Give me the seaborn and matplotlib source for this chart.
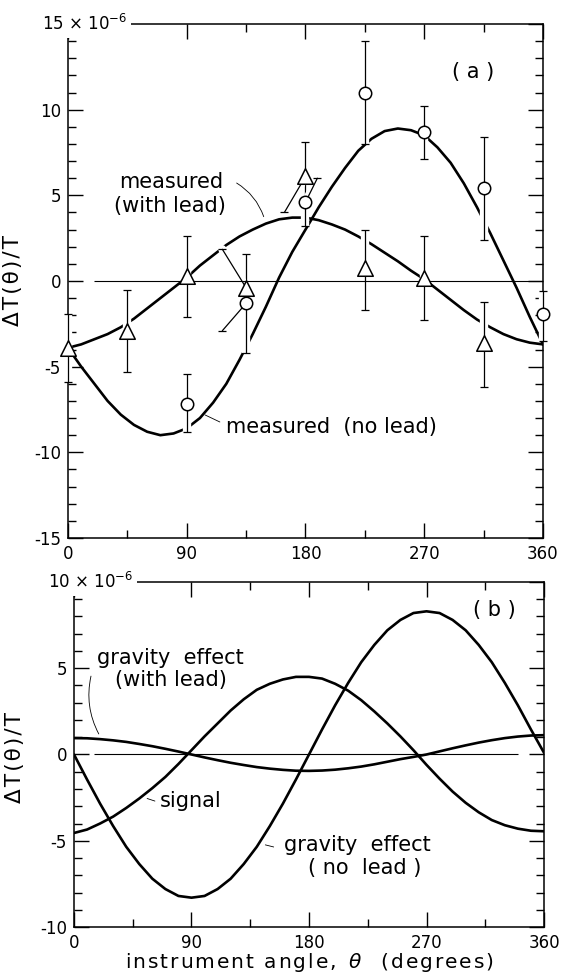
import numpy as np
import seaborn as sns
import matplotlib.pyplot as plt
import matplotlib.patheffects as pe

# instrument angle (degrees) for the smooth curves
theta = list(range(0, 361, 10))

# panel (a): fitted curves, units of 1e-6
meas_no_lead = [-3.9, -5.0, -6.0, -7.0, -7.8, -8.4, -8.8, -9.0, -8.9, -8.6,
                -8.0, -7.1, -6.0, -4.6, -3.1, -1.5, 0.2, 1.7, 3.0,
                4.3, 5.5, 6.6, 7.6, 8.3, 8.75, 8.9, 8.8, 8.5,
                7.8, 6.9, 5.7, 4.3, 2.8, 1.2, -0.4, -2.1, -3.7]
meas_with_lead = [-3.9, -3.7, -3.4, -3.1, -2.7, -2.2, -1.6, -1.0, -0.4, 0.2,
                  0.9, 1.5, 2.1, 2.6, 3.0, 3.35, 3.6, 3.7, 3.7,
                  3.55, 3.3, 3.0, 2.6, 2.15, 1.65, 1.15, 0.6, 0.1,
                  -0.5, -1.1, -1.7, -2.25, -2.7, -3.1, -3.4, -3.6, -3.7]

# panel (a): triangles = with lead, circles = no lead
tri_x = [0, 45, 90, 135, 180, 225, 270, 315]
tri_y = [-3.9, -2.9, 0.3, -0.4, 6.1, 0.75, 0.2, -3.6]
tri_err_lo = [2.0, 2.4, 2.4, 0.9, 1.5, 2.45, 2.45, 2.6]
tri_err_hi = [2.0, 2.4, 2.3, 2.0, 2.0, 2.25, 2.4, 2.4]

circ_x = [90, 135, 180, 225, 270, 315, 360]
circ_y = [-7.2, -1.3, 4.6, 11.0, 8.7, 5.4, -1.95]
circ_err_lo = [1.6, 2.9, 1.4, 3.0, 1.6, 3.0, 1.55]
circ_err_hi = [1.8, 0.0, 0.0, 3.0, 1.5, 3.0, 1.35]

# displaced (slanted) error bars near 135 and 180 deg
slant_x0 = [135, 135, 180, 180]
slant_y0 = [-0.4, -1.3, 6.1, 4.6]
slant_x1 = [117, 117, 164, 189]
slant_y1 = [1.85, -2.9, 4.0, 6.0]

# panel (b): gravity effects and signal, units of 1e-6
grav_no_lead = [0.0, -1.45, -2.85, -4.15, -5.35, -6.35, -7.2, -7.8, -8.2, -8.3,
                -8.2, -7.8, -7.2, -6.35, -5.35, -4.15, -2.85, -1.45, 0.0,
                1.45, 2.85, 4.15, 5.35, 6.35, 7.2, 7.8, 8.2, 8.3,
                8.2, 7.8, 7.2, 6.35, 5.35, 4.15, 2.85, 1.45, 0.1]
grav_with_lead = [0.95, 0.94, 0.89, 0.82, 0.73, 0.61, 0.48, 0.33, 0.17, 0.0,
                  -0.17, -0.33, -0.48, -0.61, -0.73, -0.82, -0.89, -0.94, -0.95,
                  -0.93, -0.88, -0.8, -0.7, -0.57, -0.42, -0.27, -0.14, 0.0,
                  0.18, 0.36, 0.53, 0.69, 0.83, 0.95, 1.04, 1.1, 1.12]
signal = [-4.55, -4.35, -4.0, -3.6, -3.1, -2.55, -1.95, -1.3, -0.55, 0.25,
          1.05, 1.8, 2.55, 3.2, 3.75, 4.1, 4.35, 4.5, 4.5,
          4.4, 4.1, 3.7, 3.15, 2.5, 1.8, 1.05, 0.25, -0.6,
          -1.4, -2.15, -2.8, -3.35, -3.8, -4.1, -4.3, -4.42, -4.45]

x_major = [0, 90, 180, 270, 360]
x_minor = [45, 135, 225, 315]

sns.set_style("ticks", {"axes.edgecolor": "black", "xtick.color": "black",
                        "ytick.color": "black", "text.color": "black",
                        "axes.labelcolor": "black",
                        "xtick.direction": "in", "ytick.direction": "in"})
plt.rcParams['font.family'] = ['DejaVu Sans']

fig = plt.figure(figsize=(5.61, 9.76), dpi=100)
ax_a = fig.add_axes([0.1212, 0.4488, 0.8467, 0.5266])
ax_b = fig.add_axes([0.1319, 0.0502, 0.8378, 0.3535])

halo = [pe.Stroke(linewidth=6, foreground='white'), pe.Normal()]
HS = '\u200a'  # hair space, for the wide lettering of the axis titles
ylab = HS.join('ΔT(θ)/T')
ANN = 15


def style_axes(ax, ylim, yticks, ylabels, top_label):
    ax.set_xlim(0, 360)
    ax.set_ylim(*ylim)
    ax.set_xticks(x_major)
    ax.set_xticklabels([str(v) for v in x_major])
    ax.set_xticks(x_minor, minor=True)
    ax.set_yticks(yticks)
    ax.set_yticklabels(ylabels)
    ax.set_yticks(range(ylim[0], ylim[1] + 1), minor=True)
    ax.tick_params(which='both', top=True, right=True, direction='in',
                   width=1.0, labelsize=12, pad=5)
    ax.tick_params(which='major', length=11)
    ax.tick_params(which='minor', length=6)
    for s in ax.spines.values():
        s.set_linewidth(1.1)
    ax.set_ylabel(ylab, fontsize=15.5)
    ax.annotate(top_label, xy=(0, ylim[1]), xycoords='data',
                xytext=(-19, 0), textcoords='offset points',
                ha='left', va='center', fontsize=12, zorder=10,
                bbox=dict(fc='white', ec='none', pad=3),
                annotation_clip=False)


# ---- panel (a) ----
ax = ax_a
style_axes(ax, (-15, 15), [-15, -10, -5, 0, 5, 10, 15],
           ['-15', '-10', '-5', '0', '5', '10', ''], '15 × 10$^{-6}$')
ax.yaxis.set_label_coords(-0.095, 0.5)
ax.hlines(0, 20, 360, color='black', lw=0.8, zorder=3.5)

sns.lineplot(x=theta, y=meas_no_lead, ax=ax, color='black', lw=1.9, zorder=2)
sns.lineplot(x=theta, y=meas_with_lead, ax=ax, color='black', lw=1.9, zorder=2)

for xs, ys, lo, hi in [(tri_x, tri_y, tri_err_lo, tri_err_hi),
                       (circ_x, circ_y, circ_err_lo, circ_err_hi)]:
    eb = ax.errorbar(xs, ys, yerr=[lo, hi], fmt='none', ecolor='black',
                     elinewidth=0.9, capsize=2.6, capthick=0.9, zorder=3)
    for col in eb.lines[2]:
        col.set_path_effects(halo)
        col.set_clip_on(False)
    for cap in eb.lines[1]:
        cap.set_clip_on(False)

for x0, y0, x1, y1 in zip(slant_x0, slant_y0, slant_x1, slant_y1):
    ax.plot([x0, x1], [y0, y1], color='black', lw=0.9, zorder=3,
            path_effects=halo)
    ax.plot([x1], [y1], marker='_', ms=5.2, mew=0.9, color='black', zorder=3)

sns.scatterplot(x=tri_x, y=tri_y, ax=ax, marker='^', s=125, color='white',
                edgecolor='black', linewidth=1.1, zorder=5, clip_on=False)
sns.scatterplot(x=circ_x, y=circ_y, ax=ax, marker='o', s=80, color='white',
                edgecolor='black', linewidth=1.1, zorder=5, clip_on=False)

ax.text(78, 5.8, 'measured', ha='center', va='center', fontsize=ANN)
ax.text(77, 4.4, '(with lead)', ha='center', va='center', fontsize=ANN)
ax.annotate('', xy=(149, 3.6), xytext=(126, 5.8),
            arrowprops=dict(arrowstyle='-', lw=0.6, color='black',
                            connectionstyle='arc3,rad=-0.2'))
ax.text(120, -8.55, 'measured  (no lead)', ha='left', va='center', fontsize=ANN)
ax.annotate('', xy=(102, -7.75), xytext=(117, -8.3),
            arrowprops=dict(arrowstyle='-', lw=0.6, color='black'))
ax.text(307, 12.2, '( a )', ha='center', va='center', fontsize=ANN)

# ---- panel (b) ----
ax = ax_b
style_axes(ax, (-10, 10), [-10, -5, 0, 5, 10],
           ['-10', '-5', '0', '5', ''], '10 × 10$^{-6}$')
ax.yaxis.set_label_coords(-0.105, 0.49)
ax.hlines(0, 15, 340, color='black', lw=0.8, zorder=1)

for vals in [grav_no_lead, grav_with_lead, signal]:
    sns.lineplot(x=theta, y=vals, ax=ax, color='black', lw=1.9, zorder=2)

ax.text(74, 5.6, 'gravity  effect', ha='center', va='center', fontsize=ANN)
ax.text(74, 4.3, '(with lead)', ha='center', va='center', fontsize=ANN)
ax.annotate('', xy=(20, 1.05), xytext=(13.5, 4.7),
            arrowprops=dict(arrowstyle='-', lw=0.6, color='black',
                            connectionstyle='arc3,rad=0.2'))
ax.text(66, -2.7, 'signal', ha='left', va='center', fontsize=ANN)
ax.annotate('', xy=(54, -2.5), xytext=(64, -2.75),
            arrowprops=dict(arrowstyle='-', lw=0.6, color='black'))
ax.text(217, -5.26, 'gravity  effect', ha='center', va='center', fontsize=ANN)
ax.text(223, -6.6, '( no  lead )', ha='center', va='center', fontsize=ANN)
ax.annotate('', xy=(144.5, -5.2), xytext=(155, -5.4),
            arrowprops=dict(arrowstyle='-', lw=0.6, color='black'))
ax.text(322, 8.4, '( b )', ha='center', va='center', fontsize=ANN)
xlab = HS.join('instrument angle,') + '  $\\theta$   ' + HS.join('(degrees)')
ax.set_xlabel(xlab, fontsize=14.5, labelpad=-1)

fig.savefig('out.png', dpi=100)
